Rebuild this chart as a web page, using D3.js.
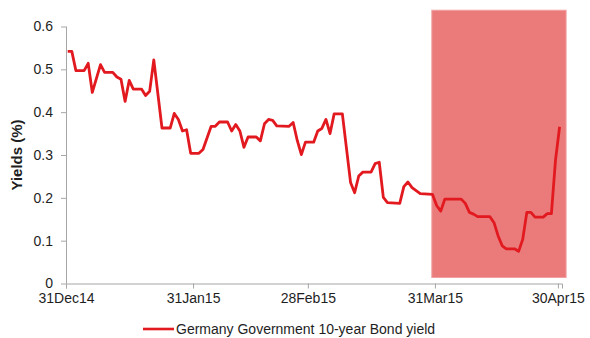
<!DOCTYPE html>
<html>
<head>
<meta charset="utf-8">
<script src="https://cdn.jsdelivr.net/npm/d3@7"></script>
<style>
  body { margin: 0; background: #fff; }
  svg { display: block; font-family: "Liberation Sans", Arial, sans-serif; }
</style>
</head>
<body>
<div id="chart"></div>
<script>
// dates of each vertex of the yield line, and the yield there (%)
const dates = [
  "2014-12-31","2015-01-01","2015-01-02","2015-01-04","2015-01-05","2015-01-06","2015-01-08","2015-01-09",
  "2015-01-11","2015-01-12","2015-01-13","2015-01-14","2015-01-15","2015-01-16","2015-01-18","2015-01-19",
  "2015-01-20","2015-01-21","2015-01-23","2015-01-25","2015-01-26","2015-01-27","2015-01-28","2015-01-29",
  "2015-01-30","2015-02-01","2015-02-02","2015-02-04","2015-02-05","2015-02-06","2015-02-08","2015-02-09",
  "2015-02-10","2015-02-11","2015-02-12","2015-02-13","2015-02-15","2015-02-16","2015-02-17","2015-02-18",
  "2015-02-19","2015-02-20","2015-02-23","2015-02-24","2015-02-25","2015-02-26","2015-02-27","2015-03-01",
  "2015-03-02","2015-03-03","2015-03-04","2015-03-05","2015-03-06","2015-03-08","2015-03-10","2015-03-11",
  "2015-03-12","2015-03-13","2015-03-15","2015-03-16","2015-03-17","2015-03-18","2015-03-19","2015-03-22",
  "2015-03-23","2015-03-24","2015-03-25","2015-03-27","2015-03-30","2015-03-31","2015-04-01","2015-04-02",
  "2015-04-06","2015-04-07","2015-04-08","2015-04-09","2015-04-10","2015-04-13","2015-04-14","2015-04-15",
  "2015-04-16","2015-04-17","2015-04-19","2015-04-20","2015-04-21","2015-04-22","2015-04-23","2015-04-24",
  "2015-04-26","2015-04-27","2015-04-28","2015-04-29","2015-04-30"
];
const yields = [
  0.542, 0.542, 0.497, 0.497, 0.514, 0.446, 0.511, 0.493,
  0.493, 0.482, 0.477, 0.425, 0.474, 0.454, 0.454, 0.439,
  0.449, 0.522, 0.363, 0.363, 0.397, 0.383, 0.356, 0.359,
  0.304, 0.304, 0.313, 0.367, 0.367, 0.377, 0.377, 0.356,
  0.371, 0.356, 0.318, 0.342, 0.342, 0.333, 0.373, 0.383,
  0.381, 0.368, 0.367, 0.376, 0.334, 0.301, 0.330, 0.330,
  0.356, 0.362, 0.383, 0.350, 0.396, 0.396, 0.236, 0.212,
  0.251, 0.260, 0.260, 0.280, 0.283, 0.201, 0.189, 0.187,
  0.226, 0.237, 0.224, 0.210, 0.208, 0.182, 0.169, 0.197,
  0.197, 0.187, 0.166, 0.162, 0.156, 0.156, 0.142, 0.111,
  0.088, 0.081, 0.081, 0.075, 0.103, 0.166, 0.166, 0.155,
  0.155, 0.163, 0.163, 0.288, 0.366
];
const seriesName = "Germany Government 10-year Bond yield";
const xTickDates = ["2014-12-31", "2015-01-31", "2015-02-28", "2015-03-31", "2015-04-30"];
const yTicks = [0, 0.1, 0.2, 0.3, 0.4, 0.5, 0.6];
// highlighted period (shaded box)
const shadeDates = ["2015-03-30", "2015-05-02"];
const shadeYields = [0.014, 0.638];

const width = 590, height = 338;
const margin = { top: 26.5, right: 28, bottom: 54.5, left: 66 };

const parse = d3.timeParse("%Y-%m-%d");
const fmt = d3.timeFormat("%d%b%y");
const data = dates.map((d, i) => ({ date: d3.timeHour.offset(parse(d), 10), value: yields[i] }));

const svg = d3.select("#chart").append("svg")
    .attr("width", width)
    .attr("height", height);

const x = d3.scaleTime()
    .domain([parse("2014-12-31"), parse("2015-05-01")])
    .range([margin.left, width - margin.right]);
const y = d3.scaleLinear()
    .domain([0, 0.6])
    .range([height - margin.bottom, margin.top]);

// shaded period
svg.append("rect")
    .attr("x", x(parse(shadeDates[0])) + 1)
    .attr("y", y(shadeYields[1]))
    .attr("width", x(parse(shadeDates[1])) - x(parse(shadeDates[0])) - 1)
    .attr("height", y(shadeYields[0]) - y(shadeYields[1]))
    .attr("fill", "#eb7b7b")
    .attr("stroke", "#f0a0a0")
    .attr("stroke-width", 1);

// axes
const yAxis = svg.append("g")
    .attr("transform", "translate(" + margin.left + ",0)")
    .call(d3.axisLeft(y).tickValues(yTicks).tickSize(5).tickPadding(8).tickFormat(d => d));
const xAxis = svg.append("g")
    .attr("transform", "translate(0," + y(0) + ")")
    .call(d3.axisBottom(x).tickValues(xTickDates.map(parse)).tickSize(5).tickPadding(5)
        .tickFormat(fmt));

[yAxis, xAxis].forEach(g => {
    g.select(".domain").attr("stroke", "#a6a6a6");
    g.selectAll(".tick line").attr("stroke", "#a6a6a6");
    g.selectAll(".tick text").attr("fill", "#1e1e1e").style("font-size", "14px");
});
yAxis.select(".domain").attr("d", "M" + 0.5 + "," + y(0.6) + "V" + y(0));

svg.append("text")
    .attr("transform", "translate(22," + y(0.3) + ") rotate(-90)")
    .attr("text-anchor", "middle")
    .attr("font-weight", "bold")
    .attr("font-size", 15)
    .attr("fill", "#1e1e1e")
    .text("Yields (%)");

// yield line
const line = d3.line()
    .x(d => x(d.date))
    .y(d => y(d.value));

svg.append("path")
    .datum(data)
    .attr("fill", "none")
    .attr("stroke", "#e2191f")
    .attr("stroke-width", 2.8)
    .attr("stroke-linejoin", "round")
    .attr("d", line);

// legend
const legend = svg.append("g").attr("transform", "translate(143,329)");
legend.append("line")
    .attr("x1", 0).attr("x2", 31)
    .attr("stroke", "#e2191f")
    .attr("stroke-width", 2.6);
legend.append("text")
    .attr("x", 33)
    .attr("y", 5)
    .attr("font-size", 14)
    .attr("fill", "#1e1e1e")
    .text(seriesName);
</script>
</body>
</html>
